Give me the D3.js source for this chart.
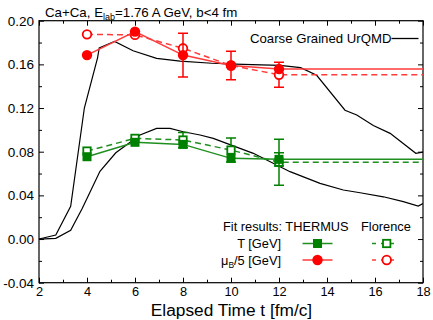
<!DOCTYPE html>
<html><head><meta charset="utf-8">
<script src="https://cdn.jsdelivr.net/npm/d3@7"></script>
<style>
html,body{margin:0;padding:0;background:#fff;}
svg{display:block;font-family:"Liberation Sans",Arial,sans-serif;}
</style></head>
<body><svg id="c" width="433" height="320"></svg>
<script>
// ---- data ----
const xTicks = [2,4,6,8,10,12,14,16,18];
const yTicks = [-0.04,0.00,0.04,0.08,0.12,0.16,0.20];
const yTickLabels = ["-0.04","0.00","0.04","0.08","0.12","0.16","0.20"];
const fitTimes = [4,6,8,10,12];
const muThermus = [0.1685,0.190,0.1685,0.1590,0.1557];
const muThermusErr = [0,0,0.020,0.013,0];
const muFlorence = [0.1875,0.187,0.1747,0.1590,0.1505];
const muFlorenceErr = [0,0,0,0,0.0115];
const tThermus = [0.0754,0.0886,0.0867,0.0739,0.0730];
const tThermusErr = [0,0,0,0,0.006];
const tFlorence = [0.0806,0.0922,0.0907,0.0815,0.0703];
const tFlorenceErr = [0,0,0.007,0.011,0.021];
const cgMuX = [2,2.7,3.32,3.89,4.44,4.51,5.15,5.92,6.9,7.88,9.2,10.5,12.04,12.9,13.57,14.75,15.24,15.93,16.63,17.7,18];
const cgMuY = [0,0.0037,0.030,0.120,0.166,0.175,0.181,0.1725,0.1655,0.163,0.161,0.160,0.159,0.157,0.150,0.118,0.1136,0.104,0.0968,0.0785,0.0797];
const cgTX = [2,2.7,3.32,3.8,4.54,5.2,6.21,6.9,7.46,8.01,8.71,9.26,10.93,12.46,13.71,14.68,15.38,16.35,17.18,17.8,18];
const cgTY = [0,0.0006,0.008,0.028,0.062,0.079,0.0953,0.1014,0.1014,0.0983,0.0953,0.0922,0.0785,0.0617,0.051,0.0449,0.0424,0.0387,0.0342,0.0302,0.0326];

// ---- layout ----
const svg = d3.select("#c");
const L=39, R=423, T=20.7, B=282.7;
const x = d3.scaleLinear().domain([2,18]).range([L,R]);
const y = d3.scaleLinear().domain([-0.04,0.20]).range([B,T]);
const RED="#ff0000", REDL="#ff3a3a", GREEN="#008000", GREENL="#1f8f1f";

// axes with inward ticks
const fmtY = d => yTickLabels[yTicks.findIndex(t=>Math.abs(t-d)<1e-9)];
function styleAxis(g, fs){g.selectAll("path").attr("stroke","#000").attr("stroke-width",1.2);g.selectAll("line").attr("stroke","#000").attr("stroke-width",1);g.selectAll("text").attr("font-size",fs||13.5).attr("fill","#000");}
const minorX = d3.range(3,18,2), minorY=[-0.02,0.02,0.06,0.10,0.14,0.18];
svg.append("g").attr("transform",`translate(0,${B})`).call(d3.axisBottom(x).tickValues(xTicks).tickSize(-5).tickPadding(4).tickSizeOuter(0)).call(styleAxis,12.8);
svg.append("g").attr("transform",`translate(0,${B})`).call(d3.axisBottom(x).tickValues(minorX).tickSize(-3).tickFormat("").tickSizeOuter(0)).call(styleAxis);
svg.append("g").attr("transform",`translate(0,${T})`).call(d3.axisTop(x).tickValues(xTicks).tickSize(-5).tickFormat("").tickSizeOuter(0)).call(styleAxis);
svg.append("g").attr("transform",`translate(0,${T})`).call(d3.axisTop(x).tickValues(minorX).tickSize(-3).tickFormat("").tickSizeOuter(0)).call(styleAxis);
svg.append("g").attr("transform",`translate(${L},0)`).call(d3.axisLeft(y).tickValues(yTicks).tickSize(-5).tickPadding(5).tickFormat(fmtY).tickSizeOuter(0)).call(styleAxis,13.5);
svg.append("g").attr("transform",`translate(${L},0)`).call(d3.axisLeft(y).tickValues(minorY).tickSize(-3).tickFormat("").tickSizeOuter(0)).call(styleAxis);
svg.append("g").attr("transform",`translate(${R},0)`).call(d3.axisRight(y).tickValues(yTicks).tickSize(-5).tickFormat("").tickSizeOuter(0)).call(styleAxis);
svg.append("g").attr("transform",`translate(${R},0)`).call(d3.axisRight(y).tickValues(minorY).tickSize(-3).tickFormat("").tickSizeOuter(0)).call(styleAxis);
svg.selectAll(".domain").remove();
svg.append("rect").attr("x",L).attr("y",T).attr("width",R-L).attr("height",B-T).attr("fill","none").attr("stroke","#000").attr("stroke-width",1.2);

// clip
svg.append("clipPath").attr("id","clp").append("rect").attr("x",L).attr("y",T).attr("width",R-L).attr("height",B-T);
const plot = svg.append("g").attr("clip-path","url(#clp)");

const line = d3.line().x(d=>x(d[0])).y(d=>y(d[1]));
plot.append("path").attr("d",line(d3.zip(cgMuX,cgMuY))).attr("fill","none").attr("stroke","#000").attr("stroke-width",1.2);
plot.append("path").attr("d",line(d3.zip(cgTX,cgTY))).attr("fill","none").attr("stroke","#000").attr("stroke-width",1.2);

function series(vals, errs, color, lineColor, dashed, marker, filled){
  const pts = fitTimes.map((t,i)=>[t,vals[i]]);
  pts.push([18, vals[vals.length-1]]);
  plot.append("path").attr("d",line(pts)).attr("fill","none").attr("stroke",lineColor).attr("stroke-width",1.5).attr("stroke-dasharray",dashed?"6,4":null);
  const g = plot.append("g");
  fitTimes.forEach((t,i)=>{
    if(errs[i]>0){
      const cx=x(t), y1=y(vals[i]+errs[i]), y2=y(vals[i]-errs[i]);
      g.append("line").attr("x1",cx).attr("x2",cx).attr("y1",y1).attr("y2",y2).attr("stroke",color).attr("stroke-width",1.5);
      [y1,y2].forEach(yy=>g.append("line").attr("x1",cx-5).attr("x2",cx+5).attr("y1",yy).attr("y2",yy).attr("stroke",color).attr("stroke-width",1.5));
    }
  });
  fitTimes.forEach((t,i)=>drawMarker(g,x(t),y(vals[i]),marker,filled,color));
}
function drawMarker(g,cx,cy,marker,filled,color){
  if(marker==="sq"){
    if(filled) g.append("rect").attr("x",cx-4.5).attr("y",cy-4.5).attr("width",9).attr("height",9).attr("fill",color);
    else g.append("rect").attr("x",cx-3.7).attr("y",cy-3.7).attr("width",7.4).attr("height",7.4).attr("fill","#fff").attr("stroke",color).attr("stroke-width",1.8);
  } else {
    if(filled) g.append("circle").attr("cx",cx).attr("cy",cy).attr("r",5.2).attr("fill",color);
    else g.append("circle").attr("cx",cx).attr("cy",cy).attr("r",4.3).attr("fill","#fff").attr("stroke",color).attr("stroke-width",1.8);
  }
}
series(tFlorence,tFlorenceErr,GREEN,GREENL,true,"sq",false);
series(tThermus,tThermusErr,GREEN,GREENL,false,"sq",true);
series(muFlorence,muFlorenceErr,RED,REDL,true,"ci",false);
series(muThermus,muThermusErr,RED,REDL,false,"ci",true);

// title
const title = svg.append("text").attr("x",45).attr("y",16.5).attr("font-size",13.3).attr("fill","#000");
title.append("tspan").text("Ca+Ca, E");
title.append("tspan").attr("font-size",9).attr("dy",3).text("lab");
title.append("tspan").attr("dy",-3).text("=1.76 A GeV, b<4 fm");

// axis title
svg.append("text").attr("x",231.5).attr("y",315.5).attr("text-anchor","middle").attr("font-size",17.3).text("Elapsed Time t [fm/c]");

// legend: UrQMD
svg.append("text").attr("x",250).attr("y",43).attr("font-size",13.2).text("Coarse Grained UrQMD");
svg.append("line").attr("x1",391.5).attr("x2",418.5).attr("y1",38.5).attr("y2",38.5).attr("stroke","#000").attr("stroke-width",1.3);

// legend: fits
svg.append("text").attr("x",223).attr("y",231).attr("font-size",12.8).text("Fit results: THERMUS");
svg.append("text").attr("x",361).attr("y",231).attr("font-size",12.8).text("Florence");
svg.append("text").attr("x",281).attr("y",248).attr("text-anchor","end").attr("font-size",12.8).text("T [GeV]");
const mu = svg.append("text").attr("x",281).attr("y",265).attr("text-anchor","end").attr("font-size",12.8);
mu.append("tspan").text("μ");
mu.append("tspan").attr("font-size",8.5).attr("dy",3).text("B");
mu.append("tspan").attr("dy",-3).text("/5 [GeV]");
const lg = svg.append("g");
[[243.5,GREEN,GREENL,"sq"],[260,RED,REDL,"ci"]].forEach(([yy,c,lc,m])=>{
  lg.append("line").attr("x1",302.5).attr("x2",332.5).attr("y1",yy).attr("y2",yy).attr("stroke",lc).attr("stroke-width",1.5);
  drawMarker(lg,317.5,yy,m,true,c);
  lg.append("line").attr("x1",372).attr("x2",397.5).attr("y1",yy).attr("y2",yy).attr("stroke",lc).attr("stroke-width",1.5).attr("stroke-dasharray","4,5");
  drawMarker(lg,386.7,yy,m,false,c);
});
</script></body></html>
